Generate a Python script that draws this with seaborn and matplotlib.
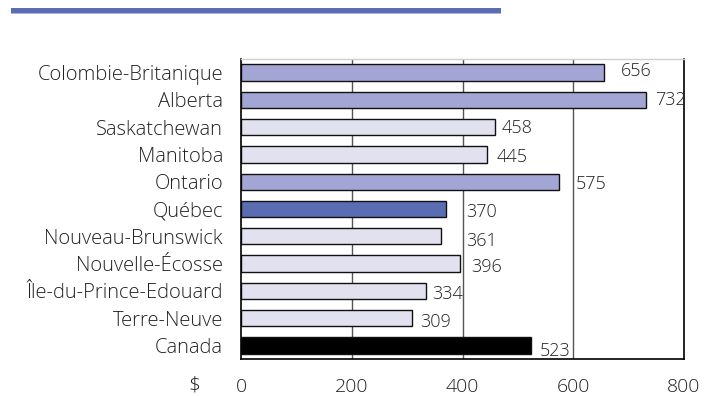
import matplotlib
matplotlib.use("Agg")
import matplotlib.pyplot as plt
import seaborn as sns
import pandas as pd

provinces = [
    "Colombie-Britanique", "Alberta", "Saskatchewan", "Manitoba", "Ontario",
    "Québec", "Nouveau-Brunswick", "Nouvelle-Écosse", "Île-du-Prince-Edouard",
    "Terre-Neuve", "Canada",
]
values = [656, 732, 458, 445, 575, 370, 361, 396, 334, 309, 523]
groups = ["high", "high", "low", "low", "high", "qc", "low", "low", "low", "low", "ca"]
x_ticks = [0, 200, 400, 600, 800]

palette = {"high": "#a3a6d4", "low": "#e1e1f0", "qc": "#5b6db2", "ca": "#000000"}

# label placement: (gap after bar end in $, downward shift in category units)
label_nudge = [(30, -0.05), (15, 0.0), (13, 0.03), (17, 0.1), (29, 0.08),
               (36, 0.1), (45, 0.17), (19, 0.13), (12, 0.1), (15, 0.13), (16, 0.22)]

sns.set_theme(style="white")
plt.rcParams["font.family"] = ["Open Sans", "DejaVu Sans"]
plt.rcParams["font.weight"] = "light"

df = pd.DataFrame({"province": provinces, "value": values, "group": groups})

fig = plt.figure(figsize=(7.16, 3.96), dpi=100)
ax = fig.add_axes([241 / 716, 1 - 359 / 396, (684 - 241) / 716, (359 - 59) / 396])

# vertical reference lines behind the bars
for v in x_ticks[1:-1]:
    ax.axvline(v, color="#555555", lw=1.0, zorder=0)

sns.barplot(data=df, y="province", x="value", hue="group", palette=palette,
            dodge=False, legend=False, width=0.6, edgecolor="#111111",
            linewidth=1.0, saturation=1, ax=ax, zorder=2)

ax.set_xlim(0, 800)
ax.set_ylim(len(provinces) - 0.5, -0.5)
ax.set_xticks(x_ticks)
ax.set_xticklabels([str(t) for t in x_ticks], fontsize=14, color="#222222",
                   fontweight="light")
ax.set_ylabel("")
ax.set_xlabel("")
ax.tick_params(axis="x", length=7, width=1, color="black", pad=6.5, direction="out")
ax.tick_params(axis="y", length=0, pad=13)
for lbl in ax.get_yticklabels():
    lbl.set_fontsize(14.5)
    lbl.set_color("#222222")
    lbl.set_fontweight("light")

for side in ["left", "bottom", "right"]:
    ax.spines[side].set_visible(True)
    ax.spines[side].set_color("black")
    ax.spines[side].set_linewidth(1.2)
ax.spines["top"].set_color("#d0d0d0")
ax.spines["top"].set_linewidth(1.0)

# value labels to the right of each bar
for i, (v, (dx, dy)) in enumerate(zip(values, label_nudge)):
    ax.text(v + dx, i + dy, str(v), va="center", ha="left",
            fontsize=13, color="#222222", fontweight="light", zorder=3)

# currency marker left of the axis origin
fig.text(194 / 716, 1 - 386 / 396, "$", ha="center", va="center",
         fontsize=15, color="#222222", fontweight="light")

# banner line across the top
fig.add_artist(plt.Rectangle((11 / 716, 1 - 13 / 396), 490 / 716, 5 / 396,
                             transform=fig.transFigure, color="#5b6db2", lw=0))
fig.add_artist(plt.Rectangle((11 / 716, 1 - 14 / 396), 490 / 716, 1 / 396,
                             transform=fig.transFigure, color="#aab4dc", lw=0))

fig.savefig("out.png", dpi=100)
